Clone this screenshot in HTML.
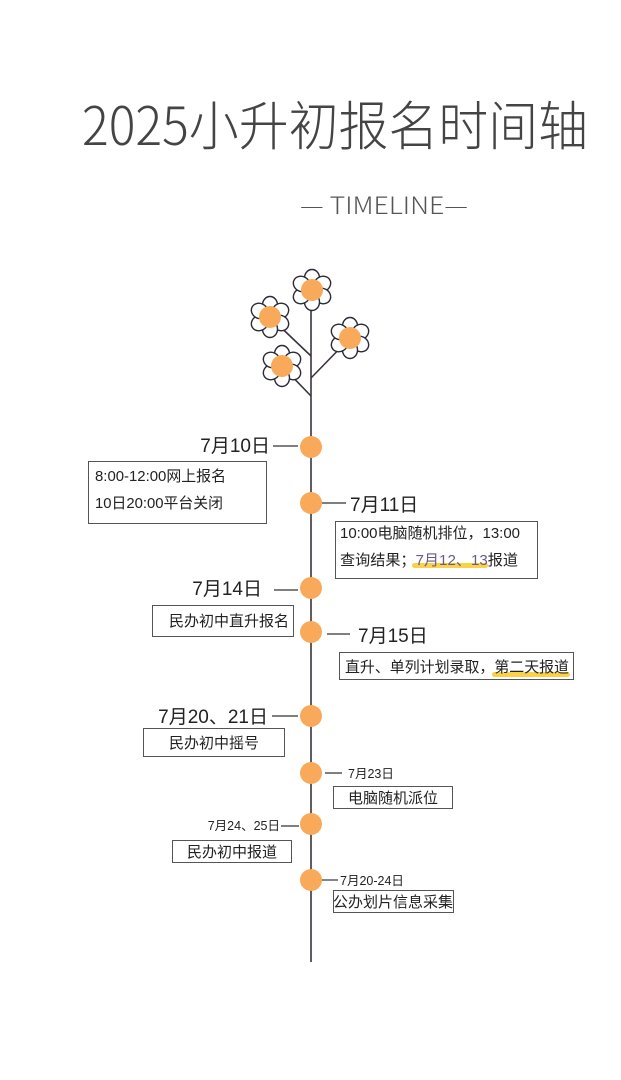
<!DOCTYPE html>
<html><head><meta charset="utf-8"><style>
html,body{margin:0;padding:0;background:#fff;}
svg{display:block}
text{font-family:"Liberation Sans","Noto Sans CJK SC",sans-serif;fill:#222}
.t{font-family:"Noto Sans CJK SC",sans-serif;font-weight:300}
</style></head><body>
<svg width="621" height="1080" viewBox="0 0 621 1080" xmlns="http://www.w3.org/2000/svg">
<defs>
<g id="fl">
  <g fill="#fff" stroke="#2a2a3a" stroke-width="1.4">
    <ellipse cx="0" cy="-12" rx="7.5" ry="8.5"/>
    <ellipse cx="0" cy="-12" rx="7.5" ry="8.5" transform="rotate(60)"/>
    <ellipse cx="0" cy="-12" rx="7.5" ry="8.5" transform="rotate(120)"/>
    <ellipse cx="0" cy="-12" rx="7.5" ry="8.5" transform="rotate(180)"/>
    <ellipse cx="0" cy="-12" rx="7.5" ry="8.5" transform="rotate(240)"/>
    <ellipse cx="0" cy="-12" rx="7.5" ry="8.5" transform="rotate(300)"/>
  </g>
  <circle r="11" fill="#f8a95a"/>
</g>
</defs>
<text class="t" x="82" y="145" font-size="53" textLength="506" lengthAdjust="spacingAndGlyphs" style="fill:#444">2025小升初报名时间轴</text>
<text class="t" x="300" y="214" font-size="24" textLength="168" lengthAdjust="spacingAndGlyphs" style="fill:#555">— TIMELINE—</text>

<g stroke="#3a3340" stroke-width="1.6" fill="none">
  <line x1="311" y1="292" x2="311" y2="962"/>
  <line x1="270" y1="317" x2="311" y2="356"/>
  <line x1="350" y1="338" x2="311" y2="378"/>
  <line x1="282" y1="366" x2="311" y2="396"/>
</g>
<use href="#fl" x="312" y="290"/>
<use href="#fl" x="270" y="317"/>
<use href="#fl" x="350" y="338"/>
<use href="#fl" x="282" y="366"/>

<g stroke="#333" stroke-width="1.2">
  <line x1="273" y1="446" x2="298" y2="446"/>
  <line x1="322" y1="503" x2="346" y2="503"/>
  <line x1="274" y1="590" x2="298" y2="590"/>
  <line x1="327" y1="634" x2="350" y2="634"/>
  <line x1="272" y1="716" x2="298" y2="716"/>
  <line x1="325" y1="773" x2="342" y2="773"/>
  <line x1="281" y1="826" x2="299" y2="826"/>
  <line x1="322" y1="880" x2="338" y2="880"/>
</g>
<g fill="#f8a95a">
  <circle cx="311" cy="447" r="11"/>
  <circle cx="311" cy="503" r="11"/>
  <circle cx="311" cy="588" r="11"/>
  <circle cx="311" cy="632" r="11"/>
  <circle cx="311" cy="716" r="11"/>
  <circle cx="311" cy="773" r="11"/>
  <circle cx="311" cy="824" r="11"/>
  <circle cx="311" cy="880" r="11"/>
</g>

<g fill="none" stroke="#555" stroke-width="1">
  <rect x="88.5" y="461.5" width="178" height="62"/>
  <rect x="335.5" y="521.5" width="202" height="57"/>
  <rect x="152.5" y="605.5" width="141" height="31"/>
  <rect x="339.5" y="652.5" width="234" height="27"/>
  <rect x="143.5" y="728.5" width="141" height="28"/>
  <rect x="333.5" y="786.5" width="119" height="22"/>
  <rect x="172.5" y="840.5" width="119" height="22"/>
  <rect x="333.5" y="890.5" width="120" height="22"/>
</g>
<g fill="#f9d24a">
  <rect x="412" y="563" width="76" height="5" rx="2.5"/>
  <rect x="492" y="672" width="78" height="5" rx="2.5"/>
</g>

<g font-size="19">
  <text x="270" y="452" text-anchor="end">7月10日</text>
  <text x="350" y="511">7月11日</text>
  <text x="262" y="595" text-anchor="end">7月14日</text>
  <text x="358" y="642">7月15日</text>
  <text x="268" y="723" text-anchor="end">7月20、21日</text>
</g>
<g font-size="15">
  <text x="95" y="481" textLength="131" lengthAdjust="spacingAndGlyphs">8:00-12:00网上报名</text>
  <text x="95" y="508" textLength="128" lengthAdjust="spacingAndGlyphs">10日20:00平台关闭</text>
  <text x="340" y="538" textLength="180" lengthAdjust="spacingAndGlyphs">10:00电脑随机排位，13:00</text>
  <text x="340" y="565" textLength="178" lengthAdjust="spacingAndGlyphs">查询结果；<tspan style="fill:#6a5a8a">7月12、13</tspan>报道</text>
  <text x="169" y="626" textLength="120" lengthAdjust="spacingAndGlyphs">民办初中直升报名</text>
  <text x="345" y="672" textLength="224" lengthAdjust="spacingAndGlyphs">直升、单列计划录取，第二天报道</text>
  <text x="214" y="748" text-anchor="middle">民办初中摇号</text>
  <text x="393" y="803" text-anchor="middle">电脑随机派位</text>
  <text x="232" y="857" text-anchor="middle">民办初中报道</text>
  <text x="393" y="907" text-anchor="middle" font-size="15">公办划片信息采集</text>
</g>
<g font-size="12.5">
  <text x="348" y="778">7月23日</text>
  <text x="280" y="830" text-anchor="end">7月24、25日</text>
  <text x="340" y="885">7月20-24日</text>
</g>
</svg>
</body></html>
